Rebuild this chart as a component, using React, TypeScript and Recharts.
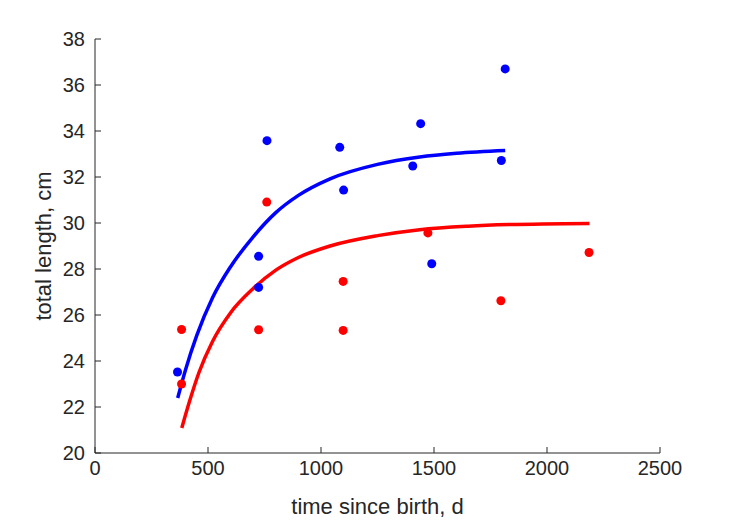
import { ComposedChart, Line, Scatter, XAxis, YAxis } from 'recharts';

const xTicks = [0, 500, 1000, 1500, 2000, 2500];
const yTicks = [20, 22, 24, 26, 28, 30, 32, 34, 36, 38];

// measured lengths
const blueDays = [365, 724, 724, 761, 1083, 1100, 1406, 1441, 1490, 1798, 1815];
const blueLength = [23.52, 28.55, 27.2, 33.58, 33.29, 31.43, 32.48, 34.32, 28.23, 32.72, 36.7];
const redDays = [383, 383, 724, 760, 1098, 1098, 1473, 1796, 2186];
const redLength = [25.37, 23.0, 25.36, 30.91, 27.46, 25.33, 29.57, 26.62, 28.72];

// fitted growth curves
const blueFitDays = [366, 400, 450, 520, 600, 700, 800, 900, 1040, 1250, 1437, 1600, 1815];
const blueFitLength = [22.39, 23.6, 25.1, 26.75, 28.1, 29.4, 30.45, 31.2, 31.92, 32.55, 32.87, 33.03, 33.15];
const redFitDays = [384, 420, 460, 520, 600, 700, 800, 900, 1040, 1250, 1437, 1650, 1834, 2188];
const redFitLength = [21.09, 22.3, 23.5, 24.85, 26.1, 27.15, 27.95, 28.5, 29.0, 29.45, 29.71, 29.86, 29.93, 29.98];

const pairs = (xs: number[], ys: number[]) => xs.map((x, i) => ({ x, y: ys[i] }));

const blueObs = pairs(blueDays, blueLength);
const redObs = pairs(redDays, redLength);
const blueFit = pairs(blueFitDays, blueFitLength);
const redFit = pairs(redFitDays, redFitLength);

const axisColor = '#262626';
const font = '"Liberation Sans", Arial, Helvetica, sans-serif';
const tickStyle = { fill: axisColor, fontSize: 20, fontFamily: font };

const App = () => {
  return (
    <div style={{ position: 'absolute', left: 0, top: 0, width: 729, height: 521, background: '#fff' }}>
      <ComposedChart width={729} height={521} margin={{ top: 39, right: 69, bottom: 6, left: 35 }}>
        <XAxis
          type="number"
          dataKey="x"
          domain={[0, 2500]}
          ticks={xTicks}
          allowDataOverflow
          height={62}
          tickSize={-6}
          tickMargin={14}
          tick={tickStyle}
          stroke={axisColor}
          label={{
            value: 'time since birth, d',
            position: 'insideBottom',
            offset: 1,
            style: { fill: axisColor, fontSize: 22, fontFamily: font },
          }}
        />
        <YAxis
          type="number"
          dataKey="y"
          domain={[20, 38]}
          ticks={yTicks}
          allowDataOverflow
          width={60}
          tickSize={-6}
          tickMargin={16}
          tick={tickStyle}
          stroke={axisColor}
          label={{
            value: 'total length, cm',
            position: 'insideLeft',
            angle: -90,
            offset: 8,
            style: { fill: axisColor, fontSize: 22, fontFamily: font, textAnchor: 'middle' },
          }}
        />
        <Scatter data={redObs} fill="#ff0000" isAnimationActive={false} />
        <Line
          data={redFit}
          dataKey="y"
          type="monotone"
          stroke="#ff0000"
          strokeWidth={3.5}
          dot={false}
          activeDot={false}
          isAnimationActive={false}
        />
        <Scatter data={blueObs} fill="#0000ff" isAnimationActive={false} />
        <Line
          data={blueFit}
          dataKey="y"
          type="monotone"
          stroke="#0000ff"
          strokeWidth={3.5}
          dot={false}
          activeDot={false}
          isAnimationActive={false}
        />
      </ComposedChart>
    </div>
  );
};

export default App;
